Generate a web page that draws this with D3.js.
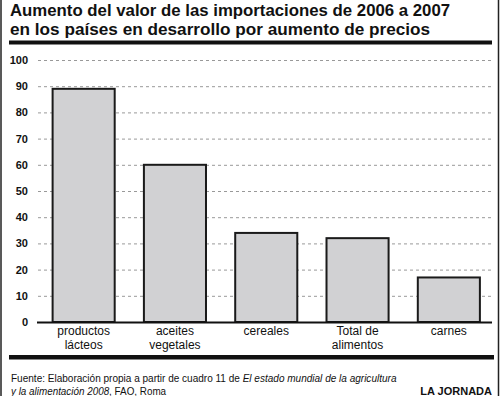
<!DOCTYPE html>
<html><head><meta charset="utf-8">
<script src="https://cdn.jsdelivr.net/npm/d3@7"></script>
<style>body{margin:0;background:#fff}svg{display:block}text{font-family:"Liberation Sans",Arial,Helvetica,sans-serif}</style>
</head><body><svg id="c" width="500" height="396"></svg>
<script>
const categories = [["productos","lácteos"],["aceites","vegetales"],["cereales"],["Total de","alimentos"],["carnes"]];
const values = [89, 60, 34, 32, 17];
const yTicks = [0,10,20,30,40,50,60,70,80,90,100];
const titleLines = ["Aumento del valor de las importaciones de 2006 a 2007","en los países en desarrollo por aumento de precios"];

const svg = d3.select("#c");
// frame
svg.append("line").attr("x1",1).attr("x2",1).attr("y1",0).attr("y2",396).attr("stroke","#222").attr("stroke-width",1.5);
svg.append("line").attr("x1",498.5).attr("x2",498.5).attr("y1",0).attr("y2",396).attr("stroke","#222").attr("stroke-width",1.5);

// helper: horizontally fit a text group to target width
function fitGroup(g, tx, ty, target){
  const w = g.node().getBBox().width;
  g.attr("transform",`translate(${tx},${ty}) scale(${target/w},1)`);
}

// title
const tl = [[16,440],[34.5,420]];
titleLines.forEach((t,i)=>{
  const g = svg.append("g");
  g.append("text").attr("x",0).attr("y",0).attr("font-size",16.8).attr("font-weight","bold")
    .attr("fill","#111").text(t);
  fitGroup(g,10,tl[i][0],tl[i][1]);
});
svg.append("rect").attr("x",9).attr("y",40.5).attr("width",483).attr("height",4).attr("fill","#111");

const x = d3.scaleBand().domain(d3.range(values.length)).range([38,494.5]).paddingInner(0.32).paddingOuter(0.16);
const y = d3.scaleLinear().domain([0,100]).range([322,60]);

// grid
svg.append("g").selectAll("line").data(yTicks.filter(d=>d>0)).join("line")
  .attr("x1",38).attr("x2",493).attr("y1",d=>y(d)+0.5).attr("y2",d=>y(d)+0.5)
  .attr("stroke","#999").attr("stroke-width",1).attr("stroke-dasharray","3,3");

// y axis labels
const yAxis = d3.axisLeft(y).tickValues(yTicks).tickSize(0).tickPadding(0);
const gy = svg.append("g").attr("transform","translate(28,0)").call(yAxis);
gy.select(".domain").remove();
gy.selectAll("text").attr("font-size",11).attr("font-weight","bold").attr("fill","#111")
  .attr("font-family","'Liberation Sans',Arial,sans-serif");

// bars
svg.append("g").selectAll("rect").data(values).join("rect")
  .attr("x",(d,i)=>x(i)).attr("width",x.bandwidth())
  .attr("y",d=>y(d)).attr("height",d=>y(0)-y(d))
  .attr("fill","#d1d1d3").attr("stroke","#1a1a1a").attr("stroke-width",2);

// baseline
svg.append("line").attr("x1",37).attr("x2",492).attr("y1",y(0)+0.5).attr("y2",y(0)+0.5).attr("stroke","#111").attr("stroke-width",2);

// x labels
const gx = svg.append("g");
categories.forEach((lines,i)=>{
  lines.forEach((l,j)=>gx.append("text").attr("x",x(i)+x.bandwidth()/2).attr("y",335+j*13.5)
    .attr("text-anchor","middle").attr("font-size",12).attr("fill","#111").text(l));
});

// bottom rule
svg.append("rect").attr("x",9).attr("y",355).attr("width",485).attr("height",4.5).attr("fill","#111");

// footnote
const g1 = svg.append("g");
const f1 = g1.append("text").attr("x",0).attr("y",0).attr("font-size",11).attr("fill","#111");
f1.append("tspan").text("Fuente: Elaboración propia a partir de cuadro 11 de ");
f1.append("tspan").attr("font-style","italic").text("El estado mundial de la agricultura");
fitGroup(g1,11,381.5,386);
const g2 = svg.append("g");
const f2 = g2.append("text").attr("x",0).attr("y",0).attr("font-size",11).attr("fill","#111");
f2.append("tspan").attr("font-style","italic").text("y la alimentación 2008");
f2.append("tspan").text(", FAO, Roma");
fitGroup(g2,11,394.5,157);

svg.append("text").attr("x",492).attr("y",394.5).attr("text-anchor","end").attr("font-size",11)
  .attr("font-weight","bold").attr("fill","#111").text("LA JORNADA");
</script></body></html>
